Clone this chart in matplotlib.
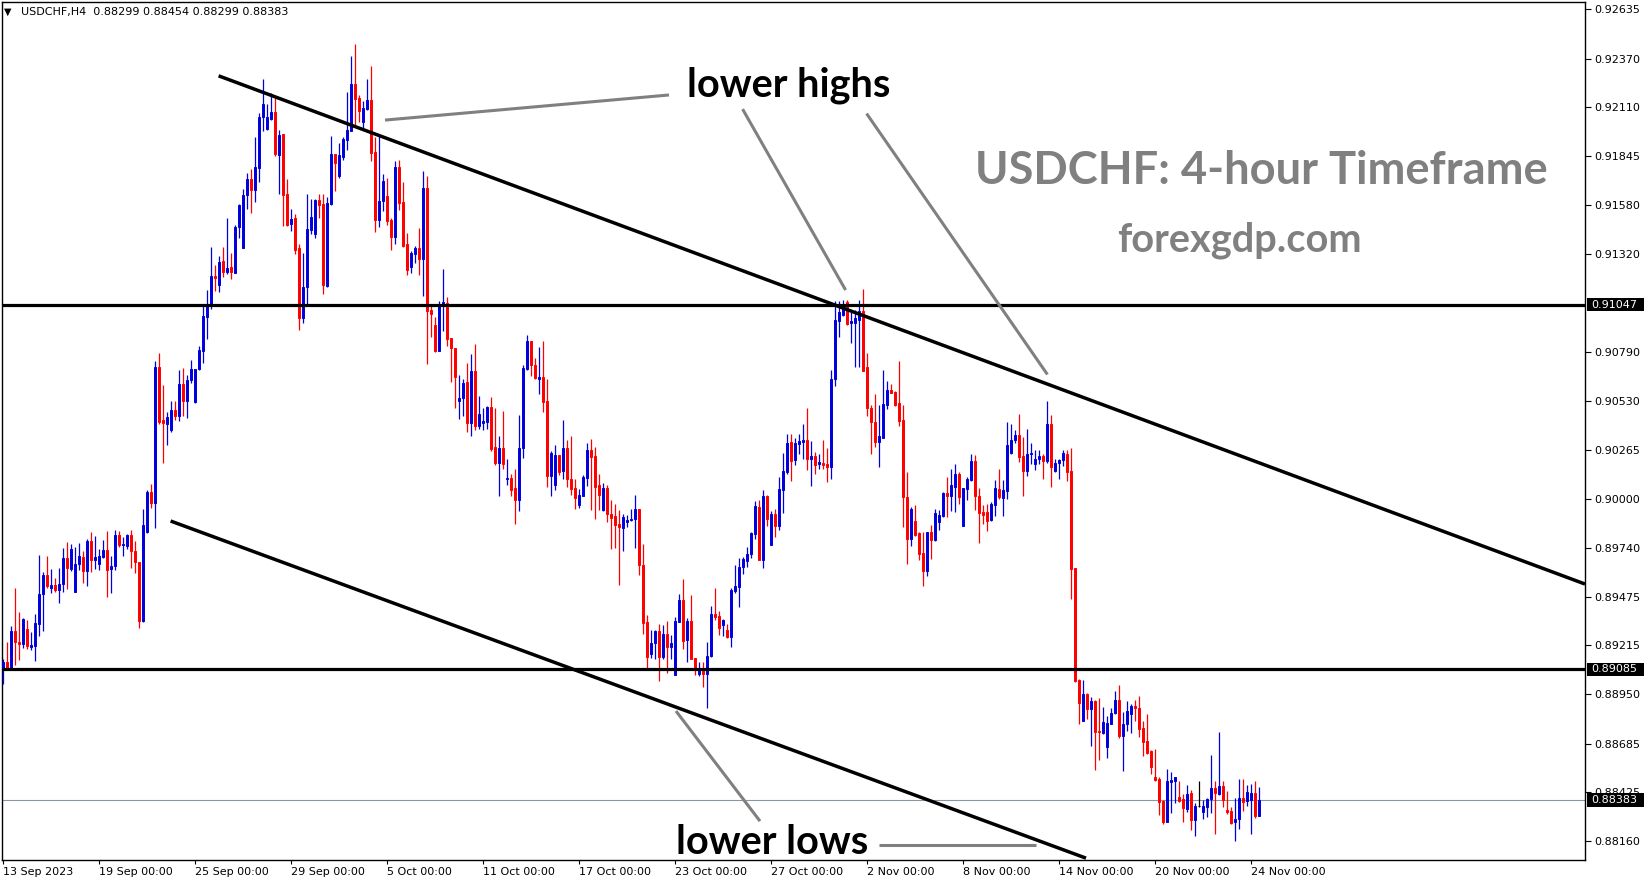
import numpy as np
import matplotlib
matplotlib.use("Agg")
import matplotlib.pyplot as plt
from matplotlib.patches import Rectangle

# ---------------- data (prices in 1e-5 units, USDCHF H4) ----------------
opens = [
    89087, 89124, 89087, 89294, 89234, 89223, 89303, 89206, 89212, 89329,
    89488, 89594, 89521, 89541, 89510, 89543, 89686, 89627, 89499, 89653,
    89690, 89615, 89775, 89675, 89653, 89690, 89726, 89624, 89640, 89808,
    89753, 89749, 89808, 89720, 89664, 89345, 89826, 90040, 89980, 90712,
    90425, 90407, 90370, 90480, 90447, 90620, 90529, 90640, 90525, 90701,
    90798, 90981, 91043, 91203, 91153, 91280, 91224, 91248, 91217, 91462,
    91352, 91638, 91720, 91665, 91782, 92057, 91991, 92044, 92084, 91851,
    91964, 91641, 91480, 91514, 91349, 90976, 91141, 91447, 91426, 91609,
    91587, 91148, 91588, 91856, 91738, 91842, 91931, 91982, 92233, 92157,
    92030, 92098, 92146, 91867, 91501, 91603, 91632, 91501, 91411, 91788,
    91598, 91372, 91250, 91318, 91349, 91291, 91675, 91020, 90936, 90798,
    91038, 91056, 90868, 90814, 90529, 90545, 90631, 90411, 90691, 90395,
    90411, 90416, 90497, 90282, 90196, 90276, 90108, 90115, 90058, 89995,
    90276, 90700, 90850, 90721, 90649, 90655, 90527, 90126, 90076, 90237,
    90151, 90273, 90111, 90063, 89968, 90016, 90115, 90264, 90232, 90076,
    89941, 90058, 89923, 89909, 89866, 89846, 89878, 89887, 89893, 89946,
    89645, 89340, 89166, 89229, 89290, 89152, 89274, 89206, 89057, 89340,
    89457, 89242, 89346, 89147, 89059, 89077, 89059, 89156, 89385, 89371,
    89326, 89299, 89260, 89507, 89529, 89633, 89668, 89708, 89812, 89959,
    89672, 90016, 89753, 89923, 89857, 90049, 90144, 90309, 90210, 90296,
    90309, 90318, 90215, 90232, 90187, 90197, 90188, 90174, 90646, 90958,
    90990, 91062, 90949, 90949, 90963, 91011, 90712, 90491, 90416, 90309,
    90330, 90506, 90587, 90578, 90515, 90425, 90013, 89785, 89882, 89816,
    89712, 89615, 89825, 89780, 89878, 89911, 90034, 90016, 90067, 90138,
    89855, 90054, 90103, 90206, 90016, 89932, 89932, 89887, 89968, 90054,
    90009, 90045, 90250, 90321, 90345, 90232, 90151, 90242, 90188, 90214,
    90232, 90206, 90407, 90151, 90196, 90210, 90246, 90152, 89628, 89028,
    88807, 88952, 88871, 88914, 88753, 88741, 88669, 88794, 88848, 88923,
    88726, 88789, 88845, 88888, 88880, 88771, 88699, 88646, 88504, 88495,
    88377, 88265, 88481, 88486, 88400, 88386, 88333, 88418, 88274, 88352,
    88316, 88346, 88386, 88445, 88414, 88459, 88328, 88323, 88262, 88278,
    88396, 88377, 88382, 88418, 88299,
]
highs = [
    89142, 89234, 89316, 89521, 89396, 89360, 89349, 89286, 89382, 89702,
    89609, 89697, 89627, 89576, 89629, 89737, 89768, 89760, 89742, 89764,
    89720, 89786, 89824, 89802, 89731, 89779, 89828, 89697, 89836, 89830,
    89797, 89812, 89836, 89775, 89664, 89945, 90050, 90083, 90741, 90785,
    90617, 90469, 90531, 90529, 90697, 90704, 90668, 90750, 90701, 90822,
    91043, 91124, 91355, 91258, 91307, 91357, 91513, 91323, 91477, 91590,
    91669, 91753, 91775, 91947, 92079, 92260, 92123, 92182, 92164, 91985,
    91964, 91722, 91560, 91532, 91372, 91326, 91641, 91614, 91614, 91641,
    91641, 91627, 91953, 91856, 91917, 91946, 92191, 92383, 92448, 92173,
    92139, 92258, 92329, 91949, 91953, 91748, 91730, 91510, 91820, 91824,
    91705, 91431, 91336, 91361, 91458, 91765, 91739, 91049, 90978, 91067,
    91237, 91089, 90868, 90814, 90667, 90646, 90734, 90780, 90834, 90554,
    90493, 90502, 90551, 90488, 90341, 90474, 90219, 90138, 90160, 90452,
    90721, 90882, 90850, 90760, 90820, 90852, 90646, 90258, 90291, 90237,
    90425, 90318, 90339, 90108, 90054, 90129, 90305, 90323, 90282, 90135,
    90085, 90076, 89995, 89977, 89941, 89923, 89914, 89946, 90022, 89946,
    89762, 89380, 89296, 89299, 89331, 89322, 89344, 89272, 89367, 89489,
    89570, 89362, 89484, 89147, 89125, 89125, 89233, 89425, 89523, 89399,
    89355, 89328, 89523, 89645, 89686, 89690, 89744, 89825, 89991, 89995,
    90049, 90022, 89937, 89950, 90120, 90250, 90350, 90350, 90327, 90350,
    90407, 90488, 90312, 90255, 90246, 90318, 90273, 90694, 91067, 91065,
    91071, 91071, 91008, 91017, 91074, 91130, 90784, 90506, 90565, 90506,
    90694, 90635, 90619, 90581, 90744, 90509, 90147, 89959, 89968, 89825,
    89825, 89825, 89860, 89945, 89941, 90040, 90120, 90162, 90192, 90147,
    90058, 90120, 90242, 90237, 90058, 89968, 89977, 89986, 90103, 90160,
    90103, 90413, 90404, 90371, 90461, 90336, 90380, 90303, 90264, 90264,
    90246, 90527, 90452, 90214, 90214, 90264, 90264, 90274, 89632, 89033,
    89028, 88956, 88938, 88920, 88929, 88884, 88836, 88880, 88968, 89001,
    88854, 88914, 88897, 88920, 88941, 88807, 88845, 88651, 88656, 88508,
    88382, 88549, 88534, 88508, 88484, 88413, 88463, 88439, 88364, 88484,
    88382, 88395, 88624, 88484, 88746, 88484, 88432, 88346, 88395, 88495,
    88495, 88466, 88468, 88484, 88454,
]
lows = [
    89005, 89080, 89080, 89106, 89135, 89201, 89197, 89190, 89131, 89263,
    89290, 89521, 89495, 89499, 89444, 89499, 89515, 89614, 89499, 89620,
    89547, 89532, 89609, 89627, 89620, 89682, 89473, 89495, 89620, 89742,
    89697, 89731, 89631, 89604, 89305, 89340, 89817, 89955, 89845, 90407,
    90194, 90293, 90363, 90425, 90420, 90447, 90436, 90624, 90520, 90697,
    90734, 90860, 91025, 91120, 91115, 91197, 91212, 91186, 91217, 91403,
    91352, 91561, 91539, 91599, 91704, 91980, 91985, 92039, 91845, 91641,
    91470, 91471, 91442, 91318, 90909, 90949, 91049, 91429, 91406, 91514,
    91103, 91142, 91582, 91657, 91729, 91824, 91877, 91980, 92012, 92030,
    91985, 92093, 91820, 91438, 91465, 91551, 91474, 91340, 91372, 91555,
    91358, 91205, 91219, 91272, 91205, 91092, 90727, 90870, 90793, 90798,
    90906, 90823, 90631, 90492, 90431, 90449, 90359, 90341, 90371, 90377,
    90371, 90380, 90260, 90183, 90018, 90165, 90076, 90018, 89866, 89937,
    90223, 90694, 90662, 90649, 90565, 90470, 90067, 90018, 90049, 90133,
    90108, 90067, 90022, 89946, 89954, 90016, 90070, 89941, 89893, 89941,
    89936, 89875, 89731, 89740, 89541, 89722, 89851, 89884, 89738, 89591,
    89278, 89090, 89147, 89140, 89023, 89140, 89068, 89143, 89054, 89340,
    89193, 89125, 89139, 89054, 89050, 88991, 88878, 89152, 89349, 89269,
    89265, 89254, 89206, 89496, 89421, 89597, 89636, 89686, 89785, 89672,
    89631, 89857, 89753, 89798, 89834, 89927, 90138, 90099, 90183, 90246,
    90214, 90156, 90072, 90138, 90162, 90162, 90094, 90108, 90610, 90873,
    90986, 90936, 90841, 90712, 90712, 90691, 90448, 90246, 90282, 90174,
    90330, 90483, 90569, 90501, 90395, 89851, 89651, 89747, 89803, 89672,
    89534, 89586, 89676, 89776, 89834, 89902, 89905, 89937, 89932, 89977,
    89855, 89995, 90099, 89941, 89765, 89866, 89830, 89884, 89909, 90004,
    89911, 90004, 90246, 90303, 90201, 90018, 90126, 90192, 90156, 90192,
    90108, 90196, 90067, 90147, 90108, 90178, 90099, 89463, 89019, 88791,
    88807, 88818, 88674, 88543, 88597, 88737, 88610, 88791, 88845, 88717,
    88540, 88753, 88744, 88807, 88723, 88620, 88628, 88522, 88484, 88301,
    88256, 88265, 88314, 88368, 88373, 88265, 88319, 88224, 88190, 88343,
    88283, 88292, 88314, 88199, 88409, 88346, 88310, 88251, 88163, 88226,
    88325, 88350, 88199, 88287, 88299,
]
closes = [
    89124, 89091, 89294, 89230, 89223, 89356, 89212, 89217, 89334, 89493,
    89594, 89532, 89541, 89510, 89543, 89686, 89631, 89735, 89653, 89697,
    89615, 89775, 89675, 89690, 89697, 89726, 89618, 89640, 89808, 89753,
    89757, 89808, 89720, 89664, 89345, 89859, 90040, 89980, 90712, 90414,
    90412, 90443, 90480, 90447, 90620, 90529, 90642, 90701, 90701, 90800,
    90983, 91047, 91203, 91190, 91274, 91224, 91246, 91224, 91466, 91583,
    91638, 91720, 91665, 91788, 92057, 92123, 92057, 92084, 91856, 91958,
    91637, 91474, 91506, 91340, 90976, 91141, 91453, 91517, 91610, 91582,
    91151, 91592, 91856, 91809, 91851, 91937, 91985, 92233, 92152, 92089,
    92103, 92146, 91863, 91501, 91603, 91711, 91496, 91411, 91788, 91594,
    91361, 91232, 91323, 91349, 91291, 91675, 91011, 90995, 90798, 91049,
    91062, 90861, 90811, 90658, 90545, 90626, 90411, 90691, 90395, 90457,
    90420, 90497, 90269, 90196, 90276, 90192, 90115, 90052, 89995, 90276,
    90707, 90850, 90721, 90653, 90658, 90524, 90126, 90249, 90237, 90147,
    90273, 90111, 90054, 90007, 90025, 90117, 90264, 90228, 90067, 90022,
    90058, 89920, 89900, 89860, 89851, 89902, 89891, 89896, 89946, 89645,
    89335, 89152, 89229, 89292, 89152, 89274, 89206, 89229, 89344, 89457,
    89236, 89346, 89143, 89086, 89080, 89059, 89156, 89385, 89367, 89308,
    89349, 89260, 89511, 89532, 89636, 89681, 89708, 89816, 89963, 89672,
    90016, 89893, 89923, 89857, 90054, 90151, 90305, 90205, 90300, 90312,
    90321, 90215, 90232, 90183, 90201, 90183, 90174, 90649, 90963, 91008,
    91040, 90945, 90958, 90972, 91011, 90691, 90488, 90413, 90309, 90341,
    90511, 90587, 90572, 90506, 90422, 90013, 89785, 89950, 89810, 89704,
    89615, 89825, 89780, 89927, 89914, 90034, 90016, 90076, 90135, 90013,
    90058, 90108, 90206, 90016, 89928, 89914, 89884, 89973, 90058, 90013,
    90049, 90291, 90321, 90345, 90228, 90151, 90242, 90251, 90215, 90232,
    90205, 90407, 90174, 90196, 90210, 90250, 90147, 89625, 89022, 88906,
    88952, 88871, 88914, 88750, 88750, 88803, 88798, 88848, 88920, 88726,
    88789, 88861, 88888, 88879, 88767, 88696, 88637, 88561, 88490, 88373,
    88262, 88484, 88490, 88504, 88379, 88341, 88414, 88274, 88352, 88352,
    88350, 88387, 88445, 88418, 88457, 88382, 88316, 88260, 88280, 88396,
    88373, 88423, 88418, 88296, 88383,
]

date_labels = ["13 Sep 2023", "19 Sep 00:00", "25 Sep 00:00", "29 Sep 00:00",
               "5 Oct 00:00", "11 Oct 00:00", "17 Oct 00:00", "23 Oct 00:00",
               "27 Oct 00:00", "2 Nov 00:00", "8 Nov 00:00", "14 Nov 00:00",
               "20 Nov 00:00", "24 Nov 00:00"]
bars_per_label = 24
price_ticks = [0.92635, 0.92370, 0.92110, 0.91845, 0.91580, 0.91320, 0.90790,
               0.90530, 0.90265, 0.90000, 0.89740, 0.89475, 0.89215, 0.88950,
               0.88685, 0.88425, 0.88160]
levels = [0.91047, 0.89085]
last_price = 0.88383
header = "USDCHF,H4  0.88299 0.88454 0.88299 0.88383"

# drawn objects (bar index, price)
upper_trend = ([53.9, 395.5], [0.92277, 0.89544])
lower_trend = ([41.9, 270.75], [0.89883, 0.88070])
pointers = [
    ([95.5, 166.5], [0.92039, 0.92174]),
    ([184.9, 210.65], [0.92098, 0.91125]),
    ([215.9, 261.1], [0.92074, 0.90671]),
    ([168.25, 189.25], [0.88861, 0.88269]),
    ([219.0, 258.25], [0.88143, 0.88143]),
]

# ---------------- figure ----------------
W, H = 1649, 884
fig = plt.figure(figsize=(W / 100, H / 100), dpi=100)
fig.patch.set_facecolor("white")
ax = fig.add_axes([2 / W, 24 / H, 1583 / W, 858 / H])

o = np.array(opens) / 1e5
h = np.array(highs) / 1e5
l = np.array(lows) / 1e5
c = np.array(closes) / 1e5
h = np.maximum(h, np.maximum(o, c))
l = np.minimum(l, np.minimum(o, c))
x = np.arange(len(c))

cols = np.where(c > o, "#0000DD", np.where(c < o, "#FF0000", "#000000"))
ax.vlines(x, l, h, colors=cols, linewidth=0.9, zorder=3)
ax.bar(x, c - o, bottom=o, width=0.6, color=cols, edgecolor=cols,
       linewidth=0.7, zorder=3)

ax.set_xlim(-0.25, 395.5)
ax.set_ylim(0.88060, 0.92674)

for lv in levels:
    ax.axhline(lv, color="black", linewidth=2.3, zorder=4)
ax.axhline(last_price, color="#8a96a3", linewidth=0.8, zorder=2)

ax.plot(*upper_trend, color="black", linewidth=2.5, zorder=4,
        solid_capstyle="butt")
ax.plot(*lower_trend, color="black", linewidth=2.5, zorder=4,
        solid_capstyle="butt")
for px, py in pointers:
    ax.plot(px, py, color="#808080", linewidth=2.2, zorder=4,
            solid_capstyle="butt")

ann_font = "Lato"
ax.text(196.3, 0.92225, "lower highs", fontsize=28.6, fontweight="bold",
        family=ann_font, ha="center", va="center", color="black", zorder=6)
ax.text(192.3, 0.88152, "lower lows", fontsize=28.6, fontweight="bold",
        family=ann_font, ha="center", va="center", color="black", zorder=6)
ax.text(314.6, 0.91763, "USDCHF: 4-hour Timeframe", fontsize=32.6,
        fontweight="bold", family=ann_font, ha="center", va="center",
        color="#808080", zorder=6)
ax.text(309, 0.91393, "forexgdp.com", fontsize=28.6, fontweight="bold",
        family=ann_font, ha="center", va="center", color="#808080", zorder=6)

# axes styling
for sp in ax.spines.values():
    sp.set_color("black")
    sp.set_linewidth(1.0)
ax.yaxis.tick_right()
ax.set_yticks(price_ticks)
ax.set_yticklabels([f"{v:.5f}" for v in price_ticks])
ax.tick_params(axis="y", direction="out", length=4, width=0.8, pad=3,
               labelsize=8, colors="black")
xt = [i * bars_per_label for i in range(len(date_labels))]
ax.set_xticks(xt)
ax.set_xticklabels(date_labels, ha="left")
ax.tick_params(axis="x", direction="out", length=3, width=0.8, pad=2,
               labelsize=8, colors="black")

# boxed price labels on the right scale
ytr = ax.get_yaxis_transform()
hh = 0.00036
for v in levels + [last_price]:
    ax.add_patch(Rectangle((1.0015, v - hh), 0.036, 2 * hh, transform=ytr,
                           facecolor="black", edgecolor="none",
                           clip_on=False, zorder=7))
    ax.text(1.0040, v, f"{v:.5f}", transform=ytr, color="white",
            fontsize=8, va="center", ha="left", clip_on=False, zorder=8)

# header
fig.text(4 / W, 1 - 12 / H, "\u25BC", fontsize=7, va="center", ha="left")
fig.text(21 / W, 1 - 12 / H, header, fontsize=8, va="center", ha="left")

fig.savefig("out.png", dpi=100, facecolor="white")
